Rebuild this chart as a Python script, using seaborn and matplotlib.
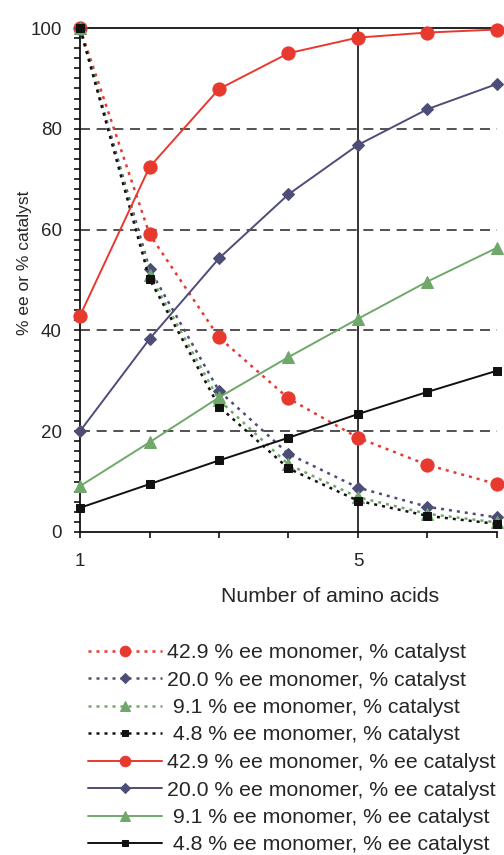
import matplotlib
matplotlib.use("Agg")
import matplotlib.pyplot as plt
import pandas as pd
import seaborn as sns
from matplotlib.ticker import MultipleLocator

# data
amino_acids = [1, 2, 3, 4, 5, 6, 7]

cat_429 = [100, 59.1, 38.6, 26.5, 18.7, 13.3, 9.5]
cat_200 = [100, 52.2, 28.0, 15.5, 8.8, 5.0, 2.9]
cat_91 = [100, 51.0, 26.2, 13.4, 6.9, 3.6, 1.9]
cat_48 = [100, 50.2, 24.9, 12.6, 6.2, 3.2, 1.6]

ee_429 = [42.9, 72.4, 87.9, 95.0, 98.1, 99.1, 99.7]
ee_200 = [20.0, 38.3, 54.3, 67.0, 76.8, 83.9, 88.9]
ee_91 = [9.1, 17.8, 26.7, 34.7, 42.3, 49.7, 56.4]
ee_48 = [4.8, 9.5, 14.2, 18.7, 23.4, 27.8, 32.0]

labels = [
    "42.9 % ee monomer, % catalyst",
    "20.0 % ee monomer, % catalyst",
    " 9.1 % ee monomer, % catalyst",
    " 4.8 % ee monomer, % catalyst",
    "42.9 % ee monomer, % ee catalyst",
    "20.0 % ee monomer, % ee catalyst",
    " 9.1 % ee monomer, % ee catalyst",
    " 4.8 % ee monomer, % ee catalyst",
]
series = [cat_429, cat_200, cat_91, cat_48, ee_429, ee_200, ee_91, ee_48]

colors = ["#e8392f", "#4d4d77", "#6fa86a", "#111111"] * 2
markers = ["o", "D", "^", "s"] * 2
msizes = [9.5, 6.5, 8.5, 6]
dotted = (0, (1.2, 2.0))
styles = [dotted] * 4 + ["-"] * 4

sns.set_style("white")
plt.rcParams["font.family"] = ["Liberation Sans", "DejaVu Sans"]

fig = plt.figure(figsize=(5.04, 8.55), dpi=100)
ax = fig.add_axes([80 / 504, 1 - 532 / 855, 417 / 504, 504 / 855])

# gridlines first so the data sits on top
for yv in [20, 40, 60, 80]:
    ax.axhline(yv, color="#333333", lw=1.2, ls=(0, (6, 4)), zorder=0)
ax.axvline(5, color="#111111", lw=1.2, zorder=0)

for i, (vals, lab) in enumerate(zip(series, labels)):
    df = pd.DataFrame({"n": amino_acids, "val": vals})
    sns.lineplot(data=df, x="n", y="val", ax=ax, color=colors[i],
                 marker=markers[i], markersize=msizes[i % 4],
                 markeredgecolor=colors[i], linestyle=styles[i],
                 lw=1.4 if i >= 4 else 1.8,
                 label=lab, clip_on=False, zorder=3)

ax.set_xlim(1, 7)
ax.set_ylim(0, 100)
ax.set_xticks(amino_acids)
ax.set_xticklabels(["1", "", "", "", "5", "", ""])
ax.yaxis.set_major_locator(MultipleLocator(20))
ax.yaxis.set_minor_locator(MultipleLocator(2))
ax.tick_params(axis="both", which="both", direction="out", length=4,
               width=1.2, color="#111111", labelsize=13.5, left=True, bottom=True)
ax.tick_params(axis="x", pad=11)
ax.tick_params(axis="y", pad=9)

for side in ["left", "bottom", "top"]:
    ax.spines[side].set_color("#111111")
    ax.spines[side].set_linewidth(1.3)
ax.spines["right"].set_visible(False)

ax.set_xlabel("Number of amino acids", fontsize=15.3, labelpad=12)
ax.xaxis.set_label_coords(0.6, -0.11)
ax.set_ylabel("% ee or % catalyst", fontsize=12.5)
ax.yaxis.set_label_coords(-0.116, 0.534)

handles, labs = ax.get_legend_handles_labels()
ax.legend_.remove()
fig.legend(handles, labs, loc="upper left", bbox_to_anchor=(88 / 504, 1 - 643 / 855),
           frameon=False, handlelength=3.5, handletextpad=0.2, markerscale=0.8,
           labelspacing=0.40, borderaxespad=0, borderpad=0, numpoints=1,
           prop={"family": ["Liberation Sans"], "size": 15.3})

fig.savefig("out.png", dpi=100)
